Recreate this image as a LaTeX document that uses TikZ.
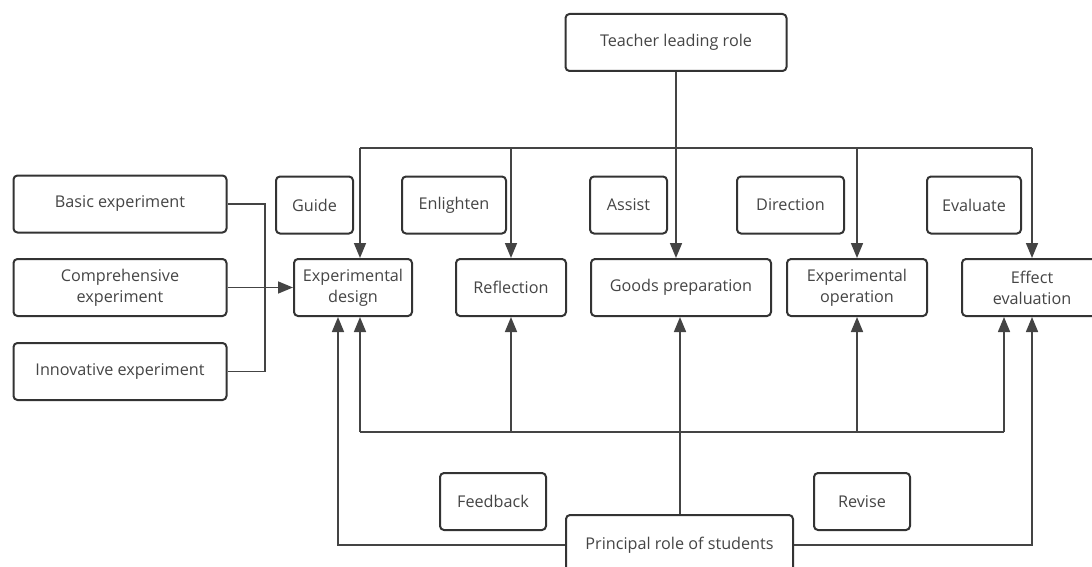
\documentclass[tikz,border=0pt]{standalone}
\usepackage{fontspec}
\setmainfont{Open Sans}
\usepackage{tikz}
\usetikzlibrary{arrows.meta}

\definecolor{boxline}{HTML}{333333}
\definecolor{wireline}{HTML}{444444}
\definecolor{txtgrey}{HTML}{454545}

\tikzset{
    stagebox/.style={draw=boxline, line width=2pt, rounded corners=4pt,
        fill=white, text=txtgrey, align=center, inner sep=2pt,
        font=\fontsize{16.2}{21}\selectfont, minimum height=57pt},
    wire/.style={draw=wireline, line width=1.6pt},
    wirearrow/.style={wire, -{Triangle[length=15pt,width=12pt]}}
}

\begin{document}
\begin{tikzpicture}[x=1pt, y=-1pt]
\useasboundingbox (0,0) rectangle (1092,567);

% top
\node[stagebox, minimum width=221pt] (teacher) at (676,42.5) {Teacher leading role};

% teacher actions
\node[stagebox, minimum width=77pt]  (guide)     at (314.5,205) {Guide};
\node[stagebox, minimum width=104pt] (enlighten) at (454,205)   {Enlighten};
\node[stagebox, minimum width=77pt]  (assist)    at (628.5,205) {Assist};
\node[stagebox, minimum width=107pt] (direction) at (790.5,205) {Direction};
\node[stagebox, minimum width=94pt]  (evaluate)  at (974,205)   {Evaluate};

% stages
\node[stagebox, minimum width=118pt] (design)     at (353,287.5) {Experimental\\design};
\node[stagebox, minimum width=110pt] (reflection) at (511,287.5) {Reflection};
\node[stagebox, minimum width=180pt] (goods)      at (681,287.5) {Goods preparation};
\node[stagebox, minimum width=140pt] (operation)  at (857,287.5) {Experimental\\operation};
\node[stagebox, minimum width=140pt] (effect)     at (1032,287.5) {Effect\\evaluation};

% experiment types
\node[stagebox, minimum width=213pt] (basic) at (120,204)   {Basic experiment};
\node[stagebox, minimum width=213pt] (compr) at (120,287.5) {Comprehensive\\experiment};
\node[stagebox, minimum width=213pt] (innov) at (120,371.5) {Innovative experiment};

% student actions
\node[stagebox, minimum width=106pt] (feedback) at (493,501.5) {Feedback};
\node[stagebox, minimum width=96pt]  (revise)   at (862,501.5) {Revise};

% teacher bus
\coordinate (t1) at (360,148);
\coordinate (t2) at (511,148);
\coordinate (t4) at (857,148);
\coordinate (t5) at (1032,148);
\draw[wire] (t1) -- (t5);
\draw[wirearrow] (teacher.south) -- (teacher.south |- goods.north);
\foreach \c/\n in {t1/design, t2/reflection, t4/operation, t5/effect}
    \draw[wirearrow] (\c) -- (\c |- \n.north);

% student bus
\coordinate (b1) at (360,432);
\coordinate (b2) at (511,432);
\coordinate (b4) at (857,432);
\coordinate (b5) at (1004,432);
\draw[wire] (b1) -- (b5);
\foreach \c/\n in {b1/design, b2/reflection, b4/operation, b5/effect}
    \draw[wirearrow] (\c) -- (\c |- \n.south);

% left bracket
\coordinate (join) at (265,287.5);
\draw[wire] (basic.east) -| (join) |- (innov.east);
\draw[wirearrow] (compr.east) -- (design.west);

% bottom node drawn last so it covers the loops
\node[stagebox, minimum width=227pt, minimum height=60pt] (principal) at (679.5,545) {Principal role of students};
\draw[wirearrow] (principal.north -| 680,0) -- (goods.south -| 680,0);
\draw[wirearrow] (principal.west) -| ([xshift=-15pt]design.south);
\draw[wirearrow] (principal.east) -| (effect.south);

\end{tikzpicture}
\end{document}
